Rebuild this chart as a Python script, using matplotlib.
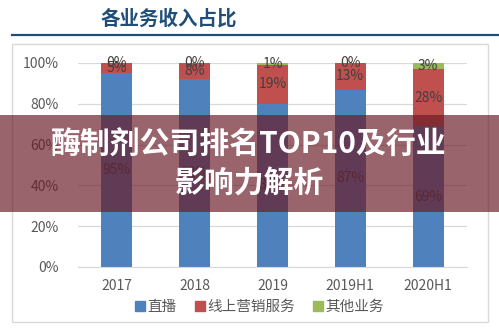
import matplotlib
matplotlib.use("Agg")
import matplotlib.pyplot as plt
from matplotlib.patches import Rectangle
from matplotlib.lines import Line2D
import numpy as np

plt.rcParams['font.family'] = ['Noto Sans CJK SC', 'DejaVu Sans']

categories = ['2017', '2018', '2019', '2019H1', '2020H1']
series_names = ['直播', '线上营销服务', '其他业务']
live = [95, 92, 80, 87, 69]
marketing = [5, 8, 19, 13, 28]
other = [0, 0, 1, 0, 3]
yticks = [0, 20, 40, 60, 80, 100]
title = '各业务收入占比'
overlay_lines = ['酶制剂公司排名TOP10及行业', '影响力解析']

colors = ['#4F81BD', '#C0504D', '#9BBB59']
W, H = 499, 328
fig = plt.figure(figsize=(W / 100, H / 100), dpi=100)

def fx(px):
    return px / W

def fy(py):
    return 1 - py / H

# chart border
fig.patches.append(Rectangle((fx(12), fy(322)), fx(488) - fx(12), fy(44) - fy(322),
                             transform=fig.transFigure, fill=False, edgecolor='#D9D9D9',
                             linewidth=1.0, zorder=1))
# title and rule
fig.text(fx(169), fy(19), title, ha='center', va='center', fontsize=14,
         fontweight='bold', color='#1F4E79')
fig.add_artist(Line2D([fx(12), fx(499)], [fy(35), fy(35)], transform=fig.transFigure,
                      color='#1F4E79', linewidth=1.6))

ax = fig.add_axes([fx(78), fy(267), fx(467) - fx(78), fy(63) - fy(267)])
x = np.arange(len(categories))
data = [live, marketing, other]
bottom = np.zeros(len(categories))
for vals, c, name in zip(data, colors, series_names):
    v = np.array(vals, dtype=float) / 100
    bars = ax.bar(x, v, 0.4, bottom=bottom, color=c, label=name, zorder=2)
    ax.bar_label(bars, labels=[f'{int(a)}%' for a in vals], label_type='center',
                 fontsize=10, color='#404040', zorder=3)
    bottom += v

ax.set_xlim(-0.5, len(categories) - 0.5)
ax.set_ylim(0, 1)
ax.set_yticks([t / 100 for t in yticks])
ax.set_yticklabels([f'{t}%' for t in yticks])
ax.set_xticks(x)
ax.set_xticklabels(categories)
ax.tick_params(axis='both', length=0, labelsize=10, colors='#595959')
ax.tick_params(axis='y', pad=14)
ax.tick_params(axis='x', pad=9)
ax.grid(axis='y', color='#D9D9D9', linewidth=0.9, zorder=0)
for s in ['top', 'right', 'left']:
    ax.spines[s].set_visible(False)
ax.spines['bottom'].set_color('#D9D9D9')
ax.set_axisbelow(True)

handles = [Line2D([0], [0], marker='s', linestyle='', markersize=6.5,
                  markerfacecolor=c, markeredgecolor=c) for c in colors]
fig.legend(handles, series_names, loc='center', bbox_to_anchor=(fx(259), fy(307)),
           ncol=3, frameon=False, fontsize=10.5, labelcolor='#595959',
           handletextpad=0.1, columnspacing=1.2, handlelength=0.8)

# overlay band
fig.patches.append(Rectangle((0, fy(212)), 1, fy(115) - fy(212), transform=fig.transFigure,
                             facecolor='#6A1A26', alpha=0.68, edgecolor='none', zorder=10))
fig.text(fx(249), fy(145), overlay_lines[0], ha='center', va='center', fontsize=21.5,
         fontweight='bold', color='white', zorder=11)
fig.text(fx(249), fy(184), overlay_lines[1], ha='center', va='center', fontsize=21.5,
         fontweight='bold', color='white', zorder=11)

fig.savefig('out.png', dpi=100)
